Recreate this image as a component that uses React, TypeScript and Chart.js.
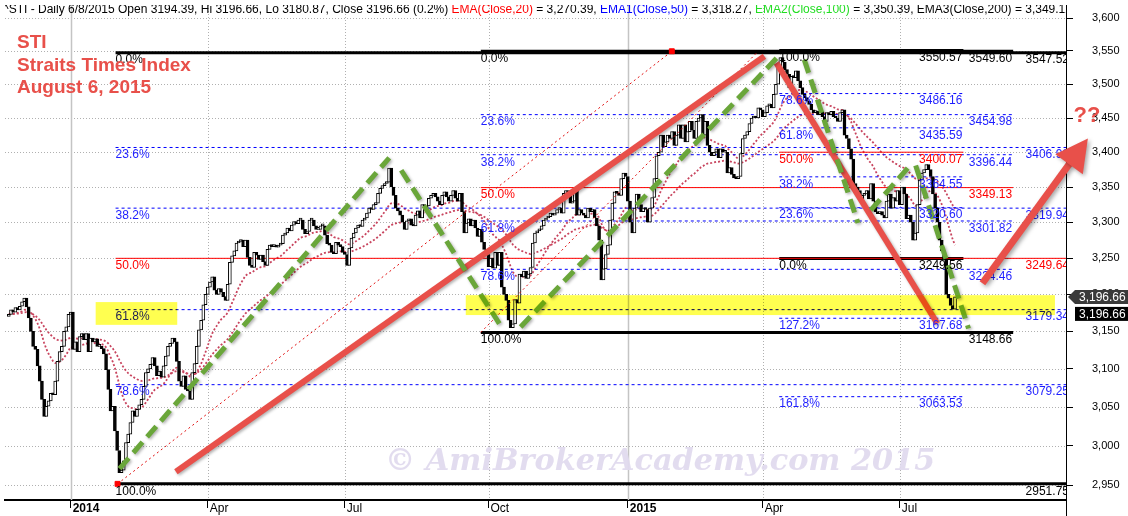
import React, { useEffect, useRef } from 'react';
import { Chart, registerables } from 'chart.js';

Chart.register(...registerables);

// ---------------- DATA ----------------
// Daily closes of the Straits Times Index, one value per trading day.
const closesLate2013 = [3173, 3179, 3176, 3182, 3179, 3184, 3190, 3195, 3183, 3168, 3150, 3130, 3126, 3104, 3084, 3060, 3038, 3051, 3058, 3068, 3066, 3084, 3110, 3123, 3130, 3150, 3156, 3173];
const closesQ1y14 = [
  3176, 3126, 3136, 3123, 3143, 3147, 3139, 3147, 3123, 3141, 3136, 3140, 3130, 3130, 3127, 3120, 3099, 3073, 3045, 3051, 3019,
  2994, 2966, 2969, 2981, 3004, 3015, 3030, 3045, 3038, 3047, 3053, 3060, 3077, 3095, 3100, 3106, 3115, 3104, 3091, 3097,
  3089, 3104, 3117, 3130, 3134, 3141, 3136, 3110, 3084, 3077, 3091, 3073, 3071, 3060, 3095, 3107, 3130, 3152, 3165, 3186, 3200,
];
const closesQ2y14 = [
  3210, 3217, 3224, 3206, 3200, 3208, 3203, 3197, 3192, 3214, 3244, 3253, 3260, 3271, 3273, 3275, 3266, 3275, 3251, 3240, 3237,
  3258, 3254, 3248, 3254, 3245, 3240, 3262, 3268, 3266, 3268, 3265, 3268, 3270, 3282, 3285, 3292, 3288, 3296, 3301, 3298,
  3303, 3303, 3290, 3284, 3287, 3303, 3303, 3295, 3290, 3290, 3295, 3295, 3282, 3270, 3268, 3258, 3256, 3272, 3268, 3266, 3258,
];
const closesQ3y14 = [
  3255, 3240, 3264, 3278, 3285, 3292, 3296, 3294, 3303, 3306, 3313, 3320, 3318, 3325, 3327, 3341, 3348, 3352, 3355, 3357, 3377, 3350,
  3338, 3320, 3316, 3310, 3300, 3290, 3302, 3305, 3296, 3295, 3310, 3316, 3306, 3325, 3320, 3323, 3334, 3338, 3341, 3336, 3330,
  3325, 3338, 3343, 3336, 3330, 3338, 3345, 3334, 3330, 3341, 3315, 3285, 3299, 3305, 3295, 3303, 3292, 3280, 3290, 3272, 3262, 3255,
];
const closesQ4y14 = [
  3238, 3250, 3236, 3258, 3240, 3258, 3210, 3200, 3192, 3165, 3155, 3160, 3193, 3188, 3228, 3224, 3232, 3222, 3228, 3237, 3271,
  3285, 3288, 3290, 3295, 3303, 3306, 3308, 3313, 3310, 3313, 3318, 3320, 3313, 3341, 3345, 3338, 3327, 3330, 3348, 3310,
  3318, 3313, 3310, 3306, 3320, 3315, 3318, 3306, 3295, 3275, 3220, 3235, 3255, 3268, 3303, 3327, 3343, 3341, 3338, 3362, 3370, 3365,
];
const closesQ1y15 = [
  3330, 3300, 3285, 3320, 3340, 3325, 3315, 3320, 3318, 3300, 3320, 3335, 3362, 3395, 3400, 3425, 3408, 3415, 3425, 3420, 3430,
  3410, 3425, 3440, 3420, 3440, 3415, 3430, 3445, 3432, 3420, 3445, 3450, 3455, 3425, 3445, 3410, 3400, 3395,
  3400, 3405, 3392, 3405, 3400, 3400, 3370, 3378, 3368, 3363, 3362, 3365, 3398, 3420, 3425, 3430, 3442, 3450, 3452, 3450, 3465, 3462,
];
const closesQ2y15 = [
  3452, 3458, 3468, 3470, 3465, 3485, 3500, 3525, 3540, 3533, 3522, 3515, 3495, 3512, 3510, 3520, 3505, 3495, 3485, 3480, 3475,
  3470, 3462, 3458, 3460, 3455, 3460, 3452, 3445, 3458, 3455, 3460, 3452, 3450, 3445, 3458, 3462, 3425, 3420, 3405, 3390,
  3355, 3350, 3345, 3332, 3338, 3340, 3345, 3333, 3355, 3330, 3315, 3312, 3315, 3310, 3306, 3330, 3340, 3320, 3335, 3330, 3345,
];
const closesJulAug2015 = [
  3325, 3350, 3340, 3305, 3310, 3300, 3275, 3285, 3325, 3360, 3370, 3375, 3382, 3375, 3365, 3340, 3320, 3300, 3275, 3260, 3248, 3200,
  3195, 3185, 3180, 3196.66,
];
const firstOpen = 3170;
const lastClose = 3196.66;

// time axis (trading-day index of each labelled month start)
const xTickIdx = [28, 90, 152, 217, 280, 341, 403];
const xTickLabels = ['2014', 'Apr', 'Jul', 'Oct', '2015', 'Apr', 'Jul'];
const xMin = -1.71;
const xMax = 478.2;

// price axis
const yTickValues = [2950, 3000, 3050, 3100, 3150, 3200, 3250, 3300, 3350, 3400, 3450, 3500, 3550, 3600];
const yMin = 2931.5;
const yMax = 3620.3;

// Fibonacci retracements
const pctStd = ['0.0%', '23.6%', '38.2%', '50.0%', '61.8%', '78.6%', '100.0%'];
const fib1Levels = [3547.52, 3406.92, 3319.94, 3249.64, 3179.34, 3079.25, 2951.75];
const fib1Span = [48.3, 480];
const fib2Levels = [3549.6, 3454.98, 3396.44, 3349.13, 3301.82, 3234.46, 3148.66];
const fib2Span = [213.5, 454.3];
const fib3Levels = [3550.57, 3486.16, 3435.59, 3400.07, 3364.55, 3320.6, 3249.56, 3167.68, 3063.53];
const fib3Pcts = ['100.0%', '78.6%', '61.8%', '50.0%', '38.2%', '23.6%', '0.0%', '127.2%', '161.8%'];
const fib3Span = [348.5, 431.8];

// highlighted zones [startIdx, endIdx, high, low]
const zoneStart = [39.3, 206.7];
const zoneEnd = [76.2, 473.2];
const zoneHigh = [3189.6, 3199];
const zoneLow = [3158.8, 3172];

// thick red trend lines [idxA, valA, idxB, valB]
const redTrends = [
  [75.6, 2967, 341.8, 3542],
  [347.2, 3532, 420.0, 3160.6],
];
// green dashed swing lines
const greenSwings = [
  [50.1, 2971, 172.1, 3392],
  [177.5, 3374, 223.4, 3153.5],
  [231.5, 3156, 348.1, 3542],
  [359.8, 3537, 384.1, 3299],
  [389.9, 3317, 406.6, 3377],
  [410.2, 3381, 434.1, 3154],
];
// thin dotted red channel lines
const dottedLines = [
  [49.2, 2951.75, 299.9, 3549.6],
  [213.5, 3148.66, 339.0, 3549.6],
];
// big forecast arrow [idxA, valA, idxB, valB]
const arrowLine = [440.4, 3215.3, 488.1, 3420];

// -------------- derived --------------
const closes = [
  ...closesLate2013, ...closesQ1y14, ...closesQ2y14, ...closesQ3y14, ...closesQ4y14,
  ...closesQ1y15, ...closesQ2y15, ...closesJulAug2015,
];
const opens = closes.map((c, i) => (i === 0 ? firstOpen : closes[i - 1]));

function ema(src: number[], n: number) {
  const k = 2 / (n + 1);
  let e = src[0];
  return src.map((v, i) => {
    if (i > 0) e = v * k + e * (1 - k);
    return e;
  });
}

const FONT = "'Liberation Sans', Arial, sans-serif";
const BLUE = '#1e1eff';
const RED_T = '#e8504a';

function levelStyle(p: string) {
  if (p === '0.0%' || p === '100.0%') return { color: '#000000', width: 3, dash: [] as number[], text: '#000000' };
  if (p === '50.0%') return { color: '#ff0000', width: 1, dash: [] as number[], text: '#ff0000' };
  return { color: '#0000ff', width: 1, dash: [3, 3], text: BLUE };
}

const fibSets = [
  { levels: fib1Levels, pcts: pctStd, span: fib1Span },
  { levels: fib2Levels, pcts: pctStd, span: fib2Span },
  { levels: fib3Levels, pcts: fib3Pcts, span: fib3Span },
];

function buildDatasets() {
  const ds: any[] = [];
  ds.push({
    type: 'bar',
    data: closes.map((c, i) => ({ x: i, y: [opens[i], c] })),
    backgroundColor: closes.map((c, i) => (c >= opens[i] ? '#ffffff' : '#000000')),
    borderColor: '#000000',
    borderWidth: 1,
    borderSkipped: false,
    barThickness: 3,
    minBarLength: 2,
    order: 4,
  });
  [ema(closes, 20), ema(closes, 50)].forEach((arr) => {
    ds.push({
      type: 'line',
      data: arr.map((v, i) => ({ x: i, y: v })),
      borderColor: '#c8445e',
      borderWidth: 1.8,
      borderDash: [2, 2],
      pointRadius: 0,
      order: 6,
    });
  });
  fibSets.forEach((s) => {
    s.levels.forEach((lv, k) => {
      const st = levelStyle(s.pcts[k]);
      ds.push({
        type: 'line',
        data: [{ x: s.span[0], y: lv }, { x: s.span[1], y: lv }],
        borderColor: st.color,
        borderWidth: st.width,
        borderDash: st.dash,
        pointRadius: 0,
        order: 5,
      });
    });
  });
  dottedLines.forEach((l, k) => {
    ds.push({
      type: 'line',
      data: [{ x: l[0], y: l[1] }, { x: l[2], y: l[3] }],
      borderColor: '#e01010',
      borderWidth: 1,
      borderDash: [2, 3],
      pointRadius: k === 0 ? 3.5 : 0,
      pointStyle: 'rect',
      pointBackgroundColor: '#ff0000',
      pointBorderColor: '#ff0000',
      order: 3,
    });
  });
  redTrends.forEach((l) => {
    ds.push({
      type: 'line',
      data: [{ x: l[0], y: l[1] }, { x: l[2], y: l[3] }],
      borderColor: RED_T,
      borderWidth: 6,
      pointRadius: 0,
      order: 2,
      shadow: true,
    });
  });
  greenSwings.forEach((l) => {
    ds.push({
      type: 'line',
      data: [{ x: l[0], y: l[1] }, { x: l[2], y: l[3] }],
      borderColor: '#6aa63a',
      borderWidth: 5,
      borderDash: [14, 7],
      borderCapStyle: 'butt',
      pointRadius: 0,
      order: 1,
      shadow: true,
    });
  });
  return ds;
}

const headerParts: [string, string][] = [
  ['^STI - Daily 6/8/2015 Open 3194.39, Hi 3196.66, Lo 3180.87, Close 3196.66 (0.2%) ', '#000000'],
  ['EMA(Close,20)', '#ff0000'],
  [' = 3,270.39, ', '#000000'],
  ['EMA1(Close,50)', '#0000ff'],
  [' = 3,318.27, ', '#000000'],
  ['EMA2(Close,100)', '#22dd22'],
  [' = 3,350.39, ', '#000000'],
  ['EMA3(Close,200) = 3,349.12', '#000000'],
];
const titleLines = ['STI', 'Straits Times Index', 'August 6, 2015'];

const fmtThousands = (v: number) => {
  const n = Math.round(v);
  return `${Math.floor(n / 1000)},${String(n % 1000).padStart(3, '0')}`;
};

const overlayPlugin = {
  id: 'overlay',
  beforeDatasetsDraw(chart: any) {
    const { ctx, chartArea: a } = chart;
    const xs = chart.scales.x;
    const ys = chart.scales.y;
    ctx.save();
    ctx.lineWidth = 1;
    for (const v of yTickValues) {
      const y = Math.round(ys.getPixelForValue(v)) + 0.5;
      ctx.strokeStyle = '#b0b0b0';
      ctx.setLineDash([1, 2]);
      ctx.beginPath();
      ctx.moveTo(a.left, y);
      ctx.lineTo(a.right, y);
      ctx.stroke();
    }
    xTickIdx.forEach((i, k) => {
      const year = /^\d{4}$/.test(xTickLabels[k]);
      const x = Math.round(xs.getPixelForValue(i)) + 0.5;
      ctx.setLineDash(year ? [] : [1, 2]);
      ctx.strokeStyle = year ? '#c4c4c4' : '#b0b0b0';
      ctx.lineWidth = year ? 1.5 : 1;
      ctx.beginPath();
      ctx.moveTo(x, a.top);
      ctx.lineTo(x, a.bottom);
      ctx.stroke();
    });
    ctx.setLineDash([]);
    // watermark
    const wm = '\u00A9 AmiBrokerAcademy.com 2015';
    ctx.font = "italic bold 40px 'DejaVu Serif', serif";
    const w = ctx.measureText(wm).width;
    const size = (40 * 550) / w;
    ctx.font = `italic bold ${size.toFixed(1)}px 'DejaVu Serif', serif`;
    ctx.fillStyle = 'rgba(224, 218, 238, 0.95)';
    ctx.textBaseline = 'alphabetic';
    ctx.textAlign = 'left';
    ctx.fillText(wm, 385, 470);
    ctx.restore();
  },
  beforeDatasetDraw(chart: any, args: any) {
    const ds = chart.data.datasets[args.index];
    if (ds.shadow) {
      const ctx = chart.ctx;
      ctx.save();
      ctx.shadowColor = 'rgba(0,0,0,0.3)';
      ctx.shadowBlur = 3;
      ctx.shadowOffsetX = 1.5;
      ctx.shadowOffsetY = 1.5;
    }
  },
  afterDatasetDraw(chart: any, args: any) {
    const ds = chart.data.datasets[args.index];
    if (ds.shadow) chart.ctx.restore();
  },
  afterDatasetsDraw(chart: any) {
    const { ctx, chartArea: a } = chart;
    const xs = chart.scales.x;
    const ys = chart.scales.y;
    ctx.save();
    ctx.beginPath();
    ctx.rect(a.left, a.top, a.right - a.left, a.bottom - a.top);
    ctx.clip();
    // Fibonacci labels
    ctx.font = `12px ${FONT}`;
    ctx.textBaseline = 'top';
    fibSets.forEach((s) => {
      const x0 = xs.getPixelForValue(s.span[0]);
      const x1 = xs.getPixelForValue(s.span[1]);
      s.levels.forEach((lv, k) => {
        const st = levelStyle(s.pcts[k]);
        const y = ys.getPixelForValue(lv) + 1.5;
        ctx.fillStyle = st.text;
        ctx.textAlign = 'left';
        ctx.fillText(s.pcts[k], x0, y);
        ctx.textAlign = 'right';
        ctx.fillText(lv.toFixed(2), x1 - 1, y);
      });
    });
    // header
    ctx.textAlign = 'left';
    ctx.textBaseline = 'alphabetic';
    ctx.font = `12px ${FONT}`;
    let hx = 3;
    headerParts.forEach(([t, c]) => {
      ctx.fillStyle = c;
      ctx.fillText(t, hx, 13);
      hx += ctx.measureText(t).width;
    });
    // title
    ctx.font = `bold 19px ${FONT}`;
    ctx.fillStyle = RED_T;
    const tys = [48, 71, 93];
    titleLines.forEach((t, k) => ctx.fillText(t, 17, tys[k]));
    // yellow zones (multiplied over everything below)
    ctx.globalCompositeOperation = 'multiply';
    ctx.fillStyle = '#ffff50';
    zoneStart.forEach((s, k) => {
      const xa = xs.getPixelForValue(s);
      const xb = xs.getPixelForValue(zoneEnd[k]);
      const ya = ys.getPixelForValue(zoneHigh[k]);
      const yb = ys.getPixelForValue(zoneLow[k]);
      ctx.fillRect(xa, ya, xb - xa, yb - ya);
    });
    ctx.restore();
  },
  afterDraw(chart: any) {
    const { ctx, chartArea: a } = chart;
    const xs = chart.scales.x;
    const ys = chart.scales.y;
    ctx.save();
    // y axis line continues to the bottom
    ctx.strokeStyle = '#000';
    ctx.lineWidth = 1;
    ctx.beginPath();
    ctx.moveTo(Math.round(a.right) + 0.5, a.bottom);
    ctx.lineTo(Math.round(a.right) + 0.5, chart.height);
    ctx.stroke();
    // forecast arrow
    const ax = xs.getPixelForValue(arrowLine[0]);
    const ay = ys.getPixelForValue(arrowLine[1]);
    const bx = xs.getPixelForValue(arrowLine[2]);
    const by = ys.getPixelForValue(arrowLine[3]);
    const dx = bx - ax;
    const dy = by - ay;
    const len = Math.hypot(dx, dy);
    const ux = dx / len;
    const uy = dy / len;
    const headL = 32;
    const headW = 17;
    const cx = bx - ux * headL;
    const cy = by - uy * headL;
    ctx.shadowColor = 'rgba(0,0,0,0.35)';
    ctx.shadowBlur = 4;
    ctx.shadowOffsetX = 2;
    ctx.shadowOffsetY = 2;
    ctx.strokeStyle = RED_T;
    ctx.fillStyle = RED_T;
    ctx.lineWidth = 7;
    ctx.lineCap = 'butt';
    ctx.beginPath();
    ctx.moveTo(ax, ay);
    ctx.lineTo(cx + ux * 2, cy + uy * 2);
    ctx.stroke();
    ctx.beginPath();
    ctx.moveTo(bx, by);
    ctx.lineTo(cx - uy * headW, cy + ux * headW);
    ctx.lineTo(cx + uy * headW, cy - ux * headW);
    ctx.closePath();
    ctx.fill();
    ctx.shadowColor = 'transparent';
    // question marks
    ctx.font = `bold 22px ${FONT}`;
    ctx.fillStyle = RED_T;
    ctx.textAlign = 'center';
    ctx.textBaseline = 'alphabetic';
    ctx.fillText('??', 1087, 122);
    // last price tags
    const yv = ys.getPixelForValue(lastClose);
    const label = '3,196.66';
    ctx.fillStyle = '#3a3a3a';
    ctx.beginPath();
    ctx.moveTo(a.right + 2, yv);
    ctx.lineTo(a.right + 9, yv - 7);
    ctx.lineTo(chart.width, yv - 7);
    ctx.lineTo(chart.width, yv + 7);
    ctx.lineTo(a.right + 9, yv + 7);
    ctx.closePath();
    ctx.fill();
    ctx.fillStyle = '#000';
    ctx.fillRect(a.right + 9, yv + 10, chart.width - a.right - 9, 14);
    ctx.fillStyle = '#fff';
    ctx.font = `12px ${FONT}`;
    ctx.textAlign = 'left';
    ctx.textBaseline = 'middle';
    ctx.fillText(label, a.right + 13, yv + 0.5);
    ctx.fillText(label, a.right + 13, yv + 17.5);
    ctx.restore();
  },
};

export default function App() {
  const ref = useRef<HTMLCanvasElement | null>(null);
  useEffect(() => {
    document.body.style.margin = '0';
    const canvas = ref.current;
    if (!canvas) return;
    const chart = new Chart(canvas, {
      type: 'bar',
      data: { datasets: buildDatasets() },
      options: {
        animation: false,
        responsive: false,
        events: [],
        layout: { padding: 0 },
        plugins: { legend: { display: false }, tooltip: { enabled: false } },
        scales: {
          x: {
            type: 'linear',
            min: xMin,
            max: xMax,
            offset: false,
            afterBuildTicks: (s: any) => {
              s.ticks = xTickIdx.map((v) => ({ value: v }));
            },
            afterFit: (s: any) => {
              s.height = 16;
              s.paddingLeft = 0;
              s.paddingRight = 0;
            },
            grid: { offset: false, drawOnChartArea: false, drawTicks: true, tickLength: 8, color: '#000', lineWidth: 1 },
            border: { display: true, color: '#000', width: 2 },
            ticks: {
              autoSkip: false,
              maxRotation: 0,
              minRotation: 0,
              align: 'start',
              labelOffset: 2,
              padding: -7,
              color: '#000',
              font: (c: any) => ({
                family: FONT,
                size: 12,
                weight: /^\d{4}$/.test(xTickLabels[c.index] || '') ? 'bold' : 'normal',
              }),
              callback: (_v: any, i: number) => xTickLabels[i],
            },
          },
          y: {
            type: 'logarithmic',
            position: 'right',
            min: yMin,
            max: yMax,
            afterBuildTicks: (s: any) => {
              s.ticks = yTickValues.map((v) => ({ value: v }));
            },
            afterFit: (s: any) => {
              s.width = 62;
              s.paddingTop = 0;
              s.paddingBottom = 0;
            },
            grid: { drawOnChartArea: false, drawTicks: true, tickLength: 7, color: '#000', lineWidth: 1 },
            border: { display: true, color: '#000', width: 1 },
            ticks: {
              autoSkip: false,
              padding: 19,
              color: '#000',
              font: { family: FONT, size: 11 },
              callback: (v: any) => fmtThousands(Number(v)),
            },
          },
        },
      } as any,
      plugins: [overlayPlugin as any],
    });
    return () => chart.destroy();
  }, []);
  return (
    <div style={{ width: 1128, height: 516, background: '#fff' }}>
      <canvas ref={ref} width={1128} height={516} style={{ display: 'block', width: 1128, height: 516 }} />
    </div>
  );
}
